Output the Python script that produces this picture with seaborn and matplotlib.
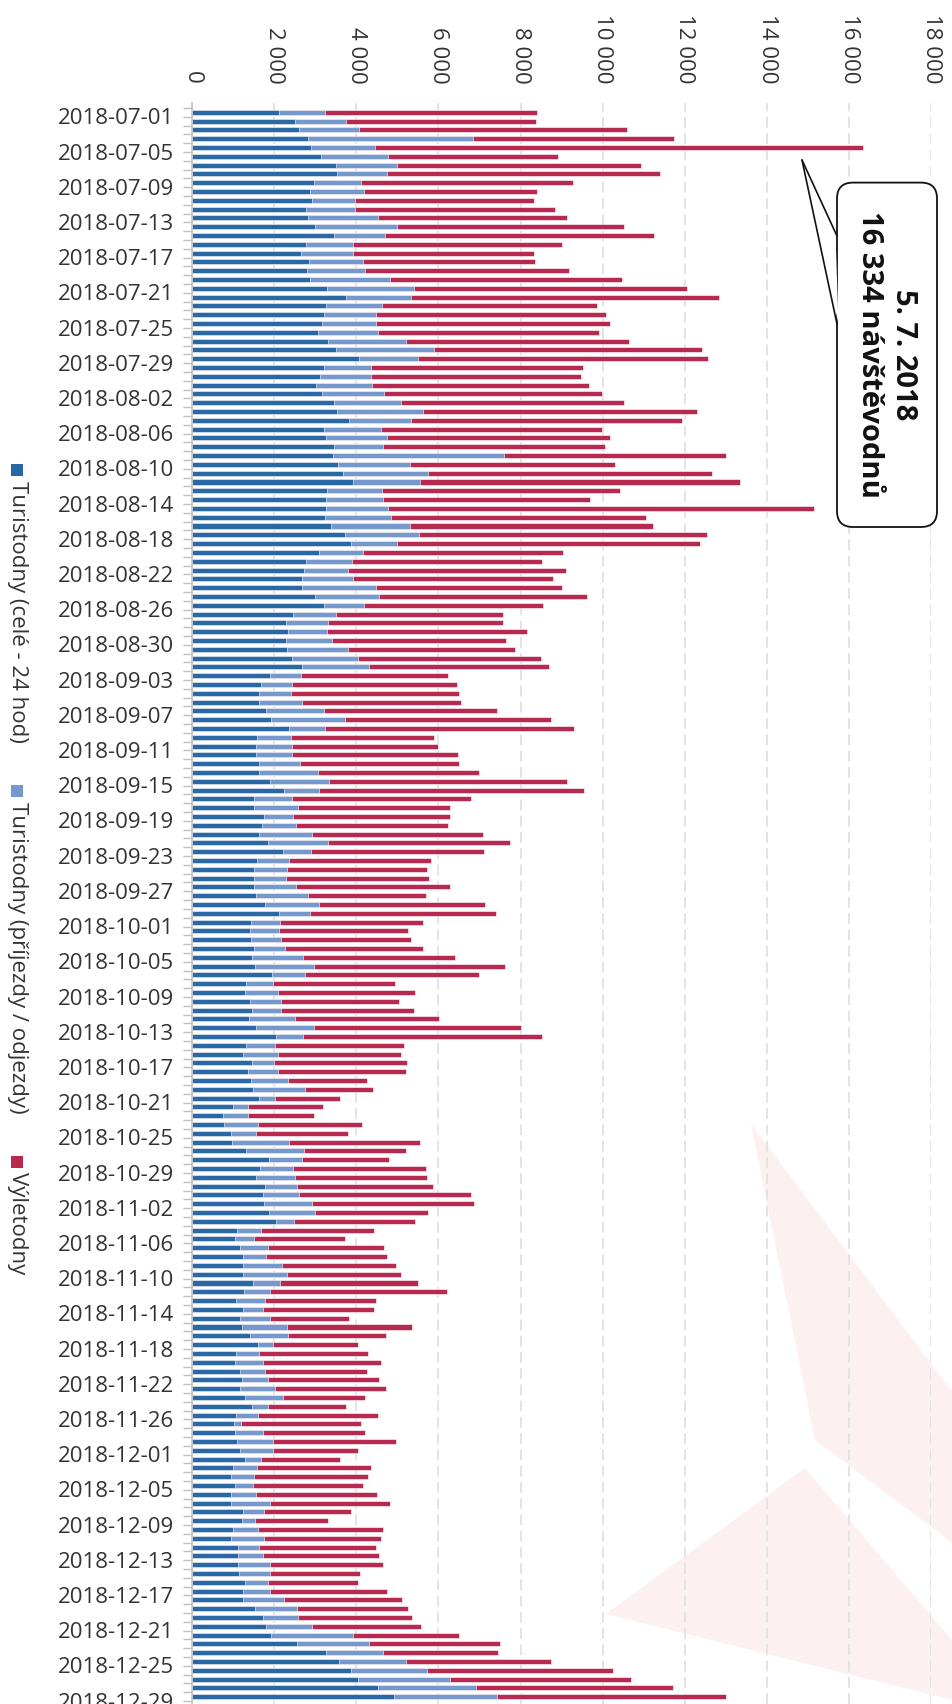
import pandas as pd
import numpy as np
import matplotlib
matplotlib.use("Agg")
import matplotlib.pyplot as plt
import matplotlib.transforms as mtransforms
from matplotlib.patches import Polygon, Rectangle, FancyBboxPatch
import seaborn as sns

# categories: daily dates, 2018-11-30 is missing in the source data
dates = [d.strftime("%Y-%m-%d") for d in pd.date_range("2018-07-01", "2018-12-29")
         if d != pd.Timestamp("2018-11-30")]

# Turistodny (celé - 24 hod)
tur_cele = [
    2120, 2510, 2600, 2830, 2890, 3130, 3510, 3530, 2970, 2870, 2920, 2770, 2830, 3000, 3450, 2770,
    2650, 2840, 2800, 2880, 3280, 3750, 3250, 3210, 3160, 3070, 3310, 3510, 4070, 3210, 3120,
    3010, 3160, 3450, 3530, 3810, 3210, 3250, 3450, 3430, 3550, 3670, 3920, 3280, 3250, 3250, 3240,
    3390, 3720, 3870, 3090, 2770, 2720, 2680, 2680, 3000, 3210, 2450, 2290, 2330, 2290, 2310,
    2430, 2670, 1890, 1670, 1630, 1630, 1800, 1920, 2360, 1590, 1560, 1560, 1630, 1630, 1890, 2240,
    1510, 1510, 1750, 1710, 1630, 1840, 2210, 1590, 1510, 1510, 1510, 1550, 1770, 2130,
    1430, 1410, 1440, 1510, 1470, 1530, 1950, 1320, 1290, 1410, 1470, 1390, 1550, 2040, 1320, 1240,
    1470, 1370, 1440, 1480, 1630, 1000, 760, 790, 950, 970, 1320, 1880, 1650, 1560, 1770,
    1730, 1750, 1880, 2040, 1090, 1050, 1170, 1240, 1250, 1240, 1480, 1270, 1080, 1250, 1170, 1210,
    1410, 1600, 1070, 1050, 1170, 1210, 1170, 1290, 1470, 1080, 1030, 1050, 1090,
    1170, 1290, 1000, 960, 1050, 960, 960, 1240, 1210, 1000, 960, 1120, 1120, 1120, 1150, 1290,
    1240, 1250, 1530, 1730, 1800, 1920, 2560, 3250, 3570, 3880, 4050, 4520, 4910,
]

# Turistodny (příjezdy / odjezdy)
tur_prijezdy = [
    1120, 1230, 1470, 4000, 1570, 1640, 1490, 1210, 1150, 1310, 1040, 1210, 1710, 2000, 1250, 1150,
    1270, 1320, 1410, 1950, 2130, 1570, 1370, 1280, 1330, 1470, 1890, 2390, 1440, 1150, 1230,
    1370, 1510, 1630, 2090, 1520, 1390, 1490, 1210, 4160, 1760, 2080, 1630, 1350, 1410, 1530, 1600,
    1910, 1810, 1130, 1070, 1120, 1080, 1240, 1800, 1560, 970, 1050, 1010, 950, 1120, 1490,
    1600, 1650, 760, 760, 790, 1040, 1410, 1810, 880, 810, 870, 870, 990, 1440, 1440, 840,
    930, 1070, 720, 810, 1280, 1470, 690, 760, 810, 790, 1030, 1280, 1320, 750,
    720, 720, 720, 760, 1240, 1450, 800, 650, 810, 750, 690, 1110, 1430, 670, 690, 850,
    530, 720, 890, 1270, 400, 370, 610, 810, 600, 1390, 1400, 790, 800, 950, 790,
    880, 1170, 1110, 450, 590, 450, 670, 560, 950, 1080, 670, 630, 690, 490, 730, 1110,
    930, 360, 560, 690, 600, 640, 840, 920, 390, 530, 160, 690, 880,
    800, 390, 590, 560, 430, 610, 950, 520, 330, 600, 790, 520, 600, 770, 750, 570,
    650, 990, 1030, 840, 1110, 2000, 1760, 1410, 1650, 1840, 2240, 2400, 2510,
]

# Výletodny
vyletodny = [
    5160, 4630, 6530, 4910, 11874, 4130, 5920, 6650, 5150, 4230, 4370, 4850, 4600, 5520, 6550, 5090,
    4400, 4190, 4960, 5650, 6630, 7520, 5250, 5600, 5680, 5370, 5440, 6510, 7050, 5160, 5120,
    5290, 5310, 5440, 6670, 6610, 5370, 5440, 5400, 5410, 4990, 6910, 7800, 5800, 5030, 10360, 6210,
    5920, 7000, 7360, 4870, 4630, 5310, 4880, 4530, 5050, 4370, 4070, 4270, 4870, 4230, 4070,
    4470, 4370, 3570, 4010, 4080, 3870, 4210, 5010, 6070, 3490, 3560, 4050, 3870, 3910, 5810, 6470,
    4350, 3690, 3800, 3720, 4170, 4440, 4210, 3470, 3400, 3480, 3750, 2870, 4050, 4530,
    3480, 3130, 3170, 3360, 3690, 4630, 4240, 2970, 3330, 2880, 3250, 3520, 5030, 5810, 3150, 2990,
    3240, 3120, 1920, 1650, 1570, 1830, 1600, 2550, 2250, 3190, 2490, 2120, 3250, 3200, 3310,
    4170, 3950, 2750, 2930, 2750, 2230, 2830, 2950, 2760, 2760, 3360, 4310, 2710, 2690, 1930, 3030,
    2390, 2090, 2650, 2870, 2480, 2710, 2720, 2000, 1890, 2930, 2930, 2470, 3000,
    2080, 1930, 2760, 2760, 2690, 2930, 2910, 2120, 1760, 3050, 2840, 2840, 2840, 2770, 2190, 2190,
    2850, 2880, 2710, 2790, 2670, 2570, 3190, 2790, 3530, 4520, 4390, 4790, 5590,
]

series_names = ["Turistodny (celé - 24 hod)", "Turistodny (příjezdy / odjezdy)", "Výletodny"]
colors = ["#2a67a5", "#7598cd", "#b8294f"]
value_ticks = list(range(0, 18001, 2000))

df = pd.DataFrame({"datum": dates, "cele": tur_cele, "prij": tur_prijezdy, "vylet": vyletodny})
df["s1"] = df["cele"]
df["s2"] = df["cele"] + df["prij"]
df["s3"] = df["s2"] + df["vylet"]

W, H = 953, 1704
sns.set_theme(style="white")
plt.rcParams["font.family"] = ["Open Sans", "DejaVu Sans"]
txt = "#333333"

fig = plt.figure(figsize=(W / 100, H / 100), dpi=100)

# background watermark, pixel coordinates
bg = fig.add_axes([0, 0, 1, 1], zorder=0)
bg.set_xlim(0, W)
bg.set_ylim(H, 0)
bg.axis("off")
wm = "#fcf0f0"
bg.add_patch(Polygon([(751, 1124), (953, 1393), (953, 1543), (815, 1440)], closed=True, fc=wm, lw=0))
bg.add_patch(Polygon([(805, 1468), (953, 1641), (953, 1700), (606, 1614)], closed=True, fc=wm, lw=0))

# main chart (stacked horizontal bars)
x0, x1, ytop = 192, 931.4, 103
ax = fig.add_axes([x0 / W, 0, (x1 - x0) / W, 1 - ytop / H], zorder=1)
ax.patch.set_alpha(0)

for col, c in zip(["s3", "s2", "s1"], colors[::-1]):
    sns.barplot(data=df, x=col, y="datum", color=c, width=0.57, ax=ax, orient="h",
                saturation=1, errorbar=None, edgecolor="white", linewidth=0.4)

n = len(dates)
ax.set_xlim(0, 18000)
ax.set_ylim(180.83, -1.057)
ax.set_xlabel("")
ax.set_ylabel("")

ax.xaxis.tick_top()
ax.set_xticks(value_ticks)
ax.set_xticklabels([f"{v:,}".replace(",", " ") for v in value_ticks])
ax.tick_params(axis="x", length=0, pad=14, labelsize=16, labelcolor=txt, labelrotation=-90)
ax.grid(axis="x", color="#e2e2e2", linestyle=(0, (6, 3)), linewidth=1.3)
ax.grid(axis="y", visible=False)

ax.set_yticks(range(0, n, 4))
ax.set_yticklabels(dates[::4])
ax.set_yticks(np.arange(-0.5, n, 1), minor=True)
ax.tick_params(axis="y", which="major", length=0, pad=13, labelsize=16, labelcolor=txt)
ax.tick_params(axis="y", which="minor", left=True, length=6.5, width=1, color="#c0c0c0")
shift = mtransforms.ScaledTranslation(0, -4 / 100, fig.dpi_scale_trans)
for lab in ax.get_yticklabels():
    lab.set_transform(lab.get_transform() + shift)

for s in ["top", "right", "bottom"]:
    ax.spines[s].set_visible(False)
ax.spines["left"].set_color("#c0c0c0")
ax.spines["left"].set_linewidth(1.2)

# overlay for legend and annotation, pixel coordinates
fg = fig.add_axes([0, 0, 1, 1], zorder=2)
fg.set_xlim(0, W)
fg.set_ylim(H, 0)
fg.axis("off")
fg.patch.set_alpha(0)

renderer = fig.canvas.get_renderer()
ypos = 464
for name, c in zip(series_names, colors):
    fg.add_patch(Rectangle((11, ypos), 12, 12, fc=c, lw=0))
    t = fg.text(17, ypos + 17, name, rotation=-90, ha="center", va="top", fontsize=16, color=txt)
    ext = t.get_window_extent(renderer)
    ypos = ypos + 17 + ext.height + 42

# callout for the maximum day
imax = df["s3"].idxmax()
dmax = pd.Timestamp(df.loc[imax, "datum"])
vmax = int(df.loc[imax, "s3"])
label = f"{dmax.day}. {dmax.month}. {dmax.year}\n" + f"{vmax:,}".replace(",", " ") + " návštěvodnů"

fg.add_patch(FancyBboxPatch((837, 182.6), 100, 344.4, boxstyle="round,pad=0,rounding_size=16",
                            fc="white", ec="#111111", lw=1.3))
fg.add_patch(Polygon([(802, 160), (835.5, 236), (838.5, 324)], closed=True, fc="white", lw=0))
fg.plot([802, 837], [160, 236], color="#111111", lw=1.2)
fg.plot([802, 837], [160, 324], color="#111111", lw=1.2)
fg.text(886.7, 354.8, label, rotation=-90, ha="center", va="center", multialignment="center",
        fontsize=21, fontweight="bold", color="#111111", linespacing=1.2)

fig.savefig("out.png", dpi=100)
